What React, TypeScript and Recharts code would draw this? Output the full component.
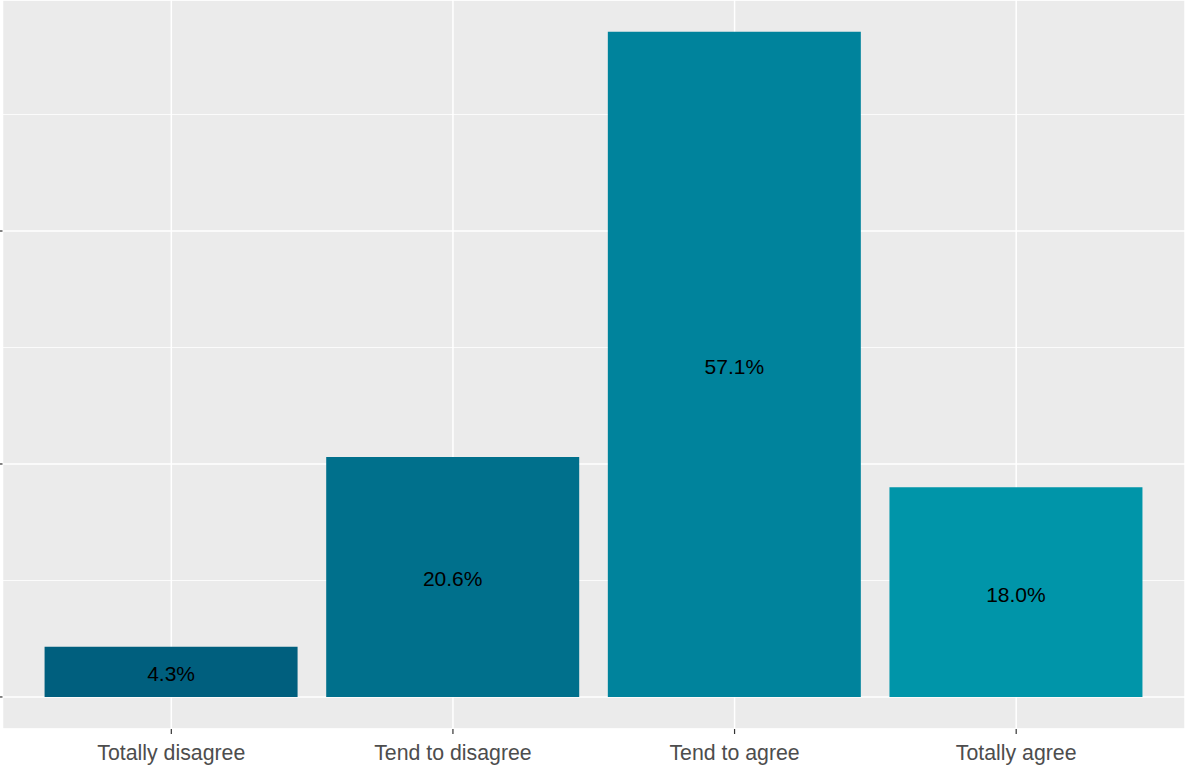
import React from "react";
import { BarChart, Bar, XAxis, YAxis, CartesianGrid, Cell, LabelList } from "recharts";

const categories = ["Totally disagree", "Tend to disagree", "Tend to agree", "Totally agree"];
const values = [4.3, 20.6, 57.1, 18.0];
const colors = ["#005f7e", "#00708c", "#00839c", "#0095a9"];
const majorTicks = [0, 20, 40];
const minorTicks = [10, 30, 50];
const yDomain = [-2.75, 59.83];

const data = categories.map((c, i) => ({ category: c, value: values[i] }));

const NoLabel = () => <g />;

export default function App() {
  return (
    <div style={{ position: "absolute", left: 0, top: 0, width: 1185, height: 767, background: "#ffffff" }}>
      <BarChart
        width={1185}
        height={767}
        data={data}
        margin={{ top: 0, right: 0, bottom: 0, left: 0 }}
        barCategoryGap="5%"
      >
        <CartesianGrid
          yAxisId="minor"
          stroke="#ffffff"
          strokeWidth={0.8}
          vertical={false}
          fill="#ebebeb"
        />
        <CartesianGrid yAxisId="major" stroke="#ffffff" strokeWidth={1.5} />
        <XAxis
          dataKey="category"
          height={38}
          padding={{ left: 28, right: 28 }}
          axisLine={false}
          tickLine={{ stroke: "#333333", strokeWidth: 1.2 }}
          tickSize={5}
          tick={{ fill: "#4d4d4d", fontSize: 21.3, fontFamily: "Liberation Sans, Arial, sans-serif", dy: 9 }}
          interval={0}
        />
        <YAxis
          yAxisId="major"
          width={2.5}
          domain={yDomain}
          ticks={majorTicks}
          allowDataOverflow
          axisLine={false}
          tickSize={3}
          tickLine={{ stroke: "#333333", strokeWidth: 1.2 }}
          tick={NoLabel}
        />
        <YAxis yAxisId="minor" hide domain={yDomain} ticks={minorTicks} allowDataOverflow />
        <Bar dataKey="value" yAxisId="major" isAnimationActive={false}>
          {data.map((d, i) => (
            <Cell key={d.category} fill={colors[i]} />
          ))}
          <LabelList
            dataKey="value"
            position="center"
            formatter={(v: number) => `${v.toFixed(1)}%`}
            fill="#000000"
            fontSize={21}
            dy={2}
            fontFamily="Liberation Sans, Arial, sans-serif"
          />
        </Bar>
      </BarChart>
    </div>
  );
}
